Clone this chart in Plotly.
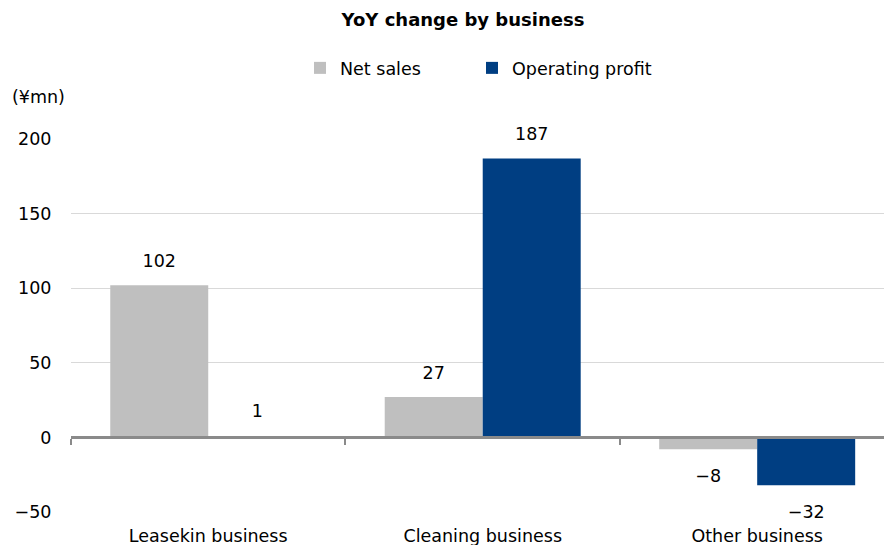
import plotly.graph_objects as go

categories = ["Leasekin business", "Cleaning business", "Other business"]
net_sales = [102, 27, -8]
operating_profit = [1, 187, -32]
series_names = ["Net sales", "Operating profit"]
y_ticks = [-50, 0, 50, 100, 150, 200]

GRAY = "#BFBFBF"
BLUE = "#003E82"
AXIS = "#8A8A8A"
FONT = "DejaVu Sans"
FS = 17.5

def fmt(v):
    return str(v).replace("-", "\u2212")

fig = go.Figure()
fig.add_trace(go.Bar(x=categories, y=net_sales, name=series_names[0],
                     marker=dict(color=GRAY, line=dict(width=0)), legendwidth=127, hoverinfo="x+y"))
fig.add_trace(go.Bar(x=categories, y=operating_profit, name=series_names[1],
                     marker=dict(color=BLUE, line=dict(width=0)), hoverinfo="x+y"))
for name, vals in [(series_names[0], net_sales), (series_names[1], operating_profit)]:
    fig.add_trace(go.Scatter(
        x=categories, y=vals, mode="markers+text", showlegend=False, hoverinfo="skip",
        text=[fmt(v) for v in vals],
        textposition=["top center" if v >= 0 else "bottom center" for v in vals],
        marker=dict(size=[21 if v >= 0 else 30 for v in vals], color="rgba(0,0,0,0)",
                    line=dict(width=0, color="rgba(0,0,0,0)")),
        textfont=dict(family=FONT, size=FS, color="#000000"),
        cliponaxis=False,
    ))
# hidden trace to register the zero-line axis
fig.add_trace(go.Scatter(x=[None], y=[None], xaxis="x2", showlegend=False, hoverinfo="skip"))

xr = [-0.5, 2.462]
fig.update_layout(
    width=884, height=545,
    margin=dict(l=71, r=0, t=139, b=33),
    paper_bgcolor="white", plot_bgcolor="white",
    barmode="group", bargap=0.286, bargroupgap=0,
    scattermode="group", scattergap=0.286,
    font=dict(family=FONT, size=FS, color="#000000"),
    title=dict(text="<b>YoY change by business</b>", x=463/884, xanchor="center",
               y=1-20/545, yanchor="middle", xref="container", yref="container",
               font=dict(family=FONT, size=18, color="#000000")),
    legend=dict(orientation="h", xref="container", yref="container",
                x=(340-40)/884, xanchor="left", y=1-68/545, yanchor="middle",
                font=dict(family=FONT, size=FS, color="#000000"),
                bgcolor="rgba(0,0,0,0)"),
    xaxis=dict(type="category", categoryarray=categories, range=xr, showgrid=False,
               zeroline=False, showline=False, ticks="outside", ticklen=8, automargin=False,
               tickcolor="rgba(0,0,0,0)", tickfont=dict(family=FONT, size=FS, color="#000000")),
    xaxis2=dict(overlaying="x", anchor="free", position=0.2, range=xr, type="linear",
                showgrid=False, zeroline=False, showline=True, linecolor=AXIS, linewidth=3,
                tickmode="array", tickvals=[-0.5, 0.5, 1.5], ticks="outside", ticklen=6,
                tickwidth=2, tickcolor=AXIS, showticklabels=False, side="bottom", automargin=False),
    yaxis=dict(range=[-50, 200], tickmode="array", tickvals=y_ticks, automargin=False,
               showgrid=True, gridcolor="#D9D9D9", gridwidth=1, zeroline=False,
               showline=False, ticks="outside", ticklen=15, tickcolor="rgba(0,0,0,0)",
               tickfont=dict(family=FONT, size=FS, color="#000000")),
    annotations=[dict(text="(¥mn)", xref="paper", yref="paper", x=(10-71)/813, y=(512-97)/373,
                      xanchor="left", yanchor="middle", showarrow=False,
                      font=dict(family=FONT, size=FS, color="#000000"))],
)

fig.write_html("out.html")
